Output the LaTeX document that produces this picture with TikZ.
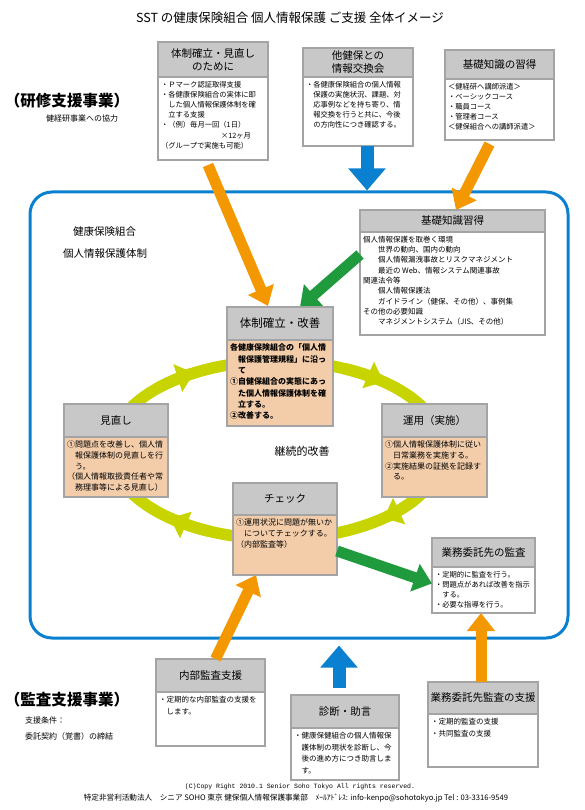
\documentclass[tikz,border=0pt]{standalone}
\usepackage{fontspec}
\setmainfont{Noto Sans CJK JP}
\newfontfamily\monofnt{Liberation Mono}
\usetikzlibrary{arrows.meta}
\definecolor{orng}{HTML}{F39800}
\definecolor{grn}{HTML}{1F9A3C}
\definecolor{blu}{HTML}{0A80D0}
\definecolor{ygrn}{HTML}{C8D400}
\definecolor{hdrgray}{HTML}{C8C8C8}
\definecolor{frmgray}{HTML}{A4A4A4}
\definecolor{peach}{HTML}{F3CDAA}
\tikzset{
  frm/.style={inner sep=0pt, outer sep=0pt},
  hdr/.style={fill=hdrgray, inner sep=0pt, outer sep=0pt, align=center, font=\fontsize{10.5}{13}\selectfont},
  frmline/.style={draw=frmgray, line width=1.6pt},
  bodytxt/.style={inner sep=0pt, outer sep=0pt, align=left, anchor=north west},
  wA-frame/.style={fill=white}, wA-text/.style={font=\fontsize{7.3}{10.2}\selectfont},
  wK-frame/.style={fill=white}, wK-text/.style={font=\fontsize{7.5}{10.3}\selectfont},
  pB-frame/.style={fill=peach}, pB-text/.style={font=\bfseries\fontsize{8}{11.3}\selectfont},
  pC-frame/.style={fill=peach}, pC-text/.style={font=\fontsize{8}{10.7}\selectfont},
  wD-frame/.style={fill=white}, wD-text/.style={font=\fontsize{7.5}{11.8}\selectfont},
  orarrow/.style={draw=orng, line width=11pt, -{Triangle[width=27pt,length=18pt]}},
  grarrow/.style={draw=grn, line width=11pt, -{Triangle[width=28pt,length=18pt]}},
  blarrow/.style={draw=blu, line width=13pt, -{Triangle[width=36pt,length=22pt]}},
  ringline/.style={draw=ygrn, line width=11.5pt},
  ringhead/.style={draw=ygrn, line width=11.5pt, -{Triangle[width=28pt,length=17pt]}},
  plain/.style={inner sep=0pt, outer sep=0pt},
}
\newcommand{\ibox}[9]{%
  \node[frm, #8-frame, anchor=north west, minimum width={(#4-#2)*1pt}, minimum height={(#5-#3)*1pt}] (#1) at (#2,#3) {};
  \node[hdr, anchor=north west, minimum width={(#4-#2)*1pt}, minimum height={#6*1pt}] (#1-h) at (#2,#3) {#7};
  \node[bodytxt, #8-text] (#1-b) at ([xshift=3pt,yshift=-4pt]#1-h.south west) {#9};
  \draw[frmline] (#1.north west) rectangle (#1.south east);
  \draw[frmline] (#1-h.south west) -- (#1-h.south east);
}
\newcommand{\ringhd}[1]{%
  \draw[ringhead] plot[domain=#1-16:#1, samples=9, smooth] ({277+166*cos(\x)},{450+89*sin(\x)});
}
\begin{document}
\begin{tikzpicture}[x=1pt,y=-1pt]
\useasboundingbox (0,0) rectangle (585,810);
\fill[white] (0,0) rectangle (585,810);

\node[plain, font=\fontsize{12.5}{14}\selectfont] (title) at (290,18) {SST の健康保険組合 個人情報保護 ご支援 全体イメージ};

% organisation frame
\node[draw=blu, line width=3pt, rounded corners=22pt, minimum width=538pt, minimum height=446pt, inner sep=0pt] (org) at (299,415) {};

% cycle ring
\draw[ringline] plot[domain=0:360, samples=90, smooth cycle] ({277+166*cos(\x)},{450+89*sin(\x)});
\ringhd{240}
\ringhd{310}
\ringhd{50}
\ringhd{130}
\node[plain, font=\fontsize{11}{13}\selectfont] (keizoku) at (302,451) {継続的改善};

\node[plain, anchor=west, font=\fontsize{10.5}{12}\selectfont] (kk1) at (73,232) {健康保険組合};
\node[plain, anchor=west, font=\fontsize{10.5}{12}\selectfont] (kk2) at (63,254) {個人情報保護体制};

\node[plain, anchor=west, font=\bfseries\fontsize{15.5}{18}\selectfont] (kenshu) at (5,101) {（研修支援事業）};
\node[plain, anchor=west, font=\fontsize{8}{10}\selectfont] (kenshu2) at (46,118) {健経研事業への協力};

\node[plain, anchor=west, font=\bfseries\fontsize{15.5}{18}\selectfont] (kansa) at (5,700) {（監査支援事業）};
\node[plain, anchor=west, font=\fontsize{8}{10}\selectfont] (jouken) at (25,720) {支援条件：};
\node[plain, anchor=west, font=\fontsize{8}{10}\selectfont] (keiyaku) at (25,736) {委託契約（覚書）の締結};

% boxes
\ibox{b1}{158}{42}{268}{160}{35}{体制確立・見直し\\のために}{wA}{%
・Ｐマーク認証取得支援\\
・各健康保険組合の実体に即\\
　した個人情報保護体制を確\\
　立する支援\\
・（例）毎月一回（1日）\\
\hspace*{60pt}×12ヶ月\\
（グループで実施も可能）}

\ibox{b2}{303}{48}{413}{146}{29}{他健保との\\情報交換会}{wA}{%
・各健康保険組合の個人情報\\
　保護の実施状況、課題、対\\
　応事例などを持ち寄り、情\\
　報交換を行うと共に、今後\\
　の方向性につき確認する。}

\ibox{b3}{445}{50}{554}{140}{29}{基礎知識の習得}{wA}{%
＜健経研へ講師派遣＞\\
・ベーシックコース\\
・職員コース\\
・管理者コース\\
＜健保組合への講師派遣＞}

% arrows (behind boxes of the cycle)
\draw[orarrow] ([xshift=-5pt,yshift=-5pt]b1.south) -- (268,306);
\draw[orarrow] ([xshift=-10pt,yshift=-4pt]b3.south) -- (456,210);
\draw[blarrow] ([xshift=9pt]b2.south) -- ([xshift=9pt]b2.south |- org.north);

\ibox{kiso}{360}{210}{545}{335}{22}{基礎知識習得}{wK}{%
個人情報保護を取巻く環境\\
　　世界の動向、国内の動向\\
　　個人情報漏洩事故とリスクマネジメント\\
　　最近の Web、情報システム関連事故\\
関連法令等\\
　　個人情報保護法\\
　　ガイドライン（健保、その他）、事例集\\
その他の必要知識\\
　　マネジメントシステム（JIS、その他）}

\draw[grarrow] ([yshift=18pt]kiso.west) -- (300,307);

\ibox{kaizen}{227}{307}{333}{426}{33}{\fontsize{11.5}{13}\selectfont 体制確立・改善}{pB}{%
各健康保険組合の「個人情\\
　報保護管理規程」に沿っ\\
　て\\
①自健保組合の実態にあっ\\
　た個人情報保護体制を確\\
　立する。\\
②改善する。}

\ibox{minaoshi}{64}{404}{168}{497}{33}{見直し}{pC}{%
①問題点を改善し、個人情\\
　報保護体制の見直しを行\\
　う。\\
（個人情報取扱責任者や常\\
　務理事等による見直し）}

\ibox{unyou}{382}{404}{487}{497}{33}{運用（実施）}{pC}{%
①個人情報保護体制に従い\\
　日常業務を実施する。\\
②実施結果の証拠を記録す\\
　る。}

\ibox{chk}{233}{483}{337}{575}{32}{チェック}{pC}{%
①運用状況に問題が無いか\\
　についてチェックする。\\
（内部監査等）}

\ibox{itaku}{432}{538}{535}{613}{29}{業務委託先の監査}{wA}{%
・定期的に監査を行う。\\
・問題点があれば改善を指示\\
　する。\\
・必要な指導を行う。}

\draw[grarrow] ([yshift=-22pt]chk.east) -- ([yshift=-8pt]itaku.west);

\ibox{naibu}{156}{659}{265}{746}{33}{内部監査支援}{wD}{%
・定期的な内部監査の支援を\\
　します。}

\ibox{shindan}{291}{695}{399}{780}{33}{診断・助言}{wD}{%
・健康保健組合の個人情報保\\
　護体制の現状を診断し、今\\
　後の進め方につき助言しま\\
　す。}

\ibox{shien}{428}{682}{538}{767}{32}{業務委託先監査の支援}{wD}{%
・定期的監査の支援\\
・共同監査の支援}

\draw[orarrow] ([xshift=5pt]naibu.north) -- ([xshift=-29pt]chk.south);
\draw[orarrow] ([xshift=-2pt]shien.north) -- ([xshift=-2.5pt]itaku.south);
\draw[blarrow] ([xshift=-6pt,yshift=7pt]shindan.north) -- ([xshift=-6pt,yshift=-6pt]shindan.north |- org.south);

\node[plain, font=\monofnt\fontsize{6.5}{8}\selectfont] (copy) at (300,787) {(C)Copy Right 2010.1 Senior Soho Tokyo All rights reserved.};
\node[plain, font=\fontsize{7.6}{9}\selectfont] (contact) at (296,798) {特定非営利活動法人　シニア SOHO 東京 健保個人情報保護事業部　ﾒｰﾙｱﾄﾞﾚｽ: info-kenpo@sohotokyo.jp Tel : 03-3316-9549};
\end{tikzpicture}
\end{document}
